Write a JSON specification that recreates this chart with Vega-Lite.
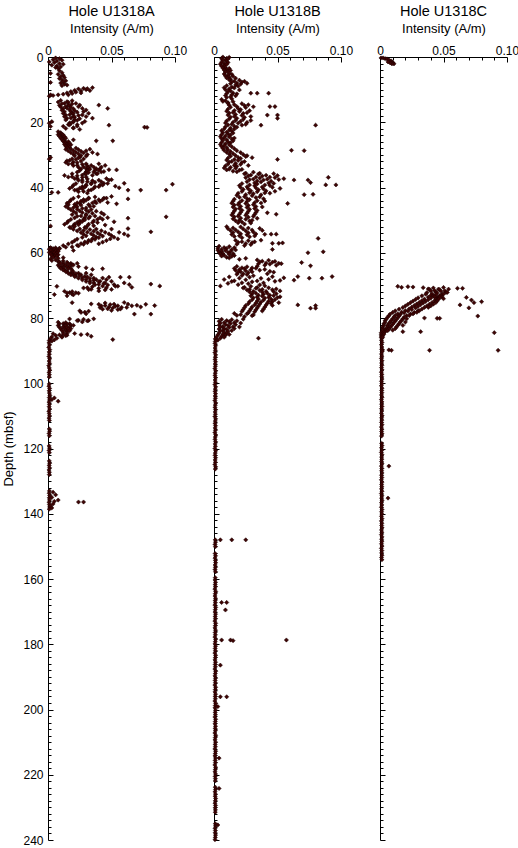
{
"$schema":"https://vega.github.io/schema/vega-lite/v6.json",
"usermeta":{"embedOptions":{"actions":false}},
"background":"white",
"padding":{"left":2,"top":4,"right":0,"bottom":0},
"bounds":"flush",
"spacing":39,
"config":{"font":"Liberation Sans","view":{"stroke":null},
"title":{"fontSize":14.5,"fontWeight":"normal","color":"black","offset":3,"font":"Liberation Sans"},
"axis":{"grid":false,"domainColor":"black","tickColor":"black","labelColor":"black","titleColor":"black","labelFont":"Liberation Sans","titleFont":"Liberation Sans","labelFontSize":12,"titleFontSize":13,"titleFontWeight":"normal","domainWidth":1,"tickWidth":1,"labelFlush":false,"labelOverlap":false}},
"datasets":{
"a":[
{"d":0.3,"v":0.006},{"d":0.5,"v":0.009},{"d":0.8,"v":0.004},{"d":1.0,"v":0.011},{"d":1.2,"v":0.007},{"d":1.5,"v":0.001},{"d":1.7,"v":0.005},{"d":2.0,"v":0.009},{"d":2.2,"v":0.012},{"d":2.5,"v":0.003},{"d":2.7,"v":0.007},{"d":3.0,"v":0.010},{"d":3.2,"v":0.006},{"d":3.5,"v":0.008},
{"d":4.2,"v":0.009},{"d":4.8,"v":0.011},{"d":5.3,"v":0.008},{"d":5.6,"v":0.012},{"d":6.0,"v":0.010},{"d":6.3,"v":0.013},{"d":6.6,"v":0.009},{"d":7.0,"v":0.011},{"d":7.3,"v":0.014},{"d":7.6,"v":0.012},{"d":8.0,"v":0.010},{"d":8.3,"v":0.013},{"d":8.6,"v":0.015},{"d":8.8,"v":0.011},{"d":5.0,"v":0.002},{"d":7.8,"v":0.002},
{"d":9.4,"v":0.035},{"d":9.6,"v":0.028},{"d":9.8,"v":0.024},{"d":10.0,"v":0.030},{"d":10.2,"v":0.021},{"d":10.4,"v":0.026},{"d":10.6,"v":0.018},{"d":10.8,"v":0.022},{"d":11.0,"v":0.015},{"d":11.2,"v":0.019},{"d":11.4,"v":0.012},{"d":11.6,"v":0.008},{"d":11.8,"v":0.004},{"d":12.0,"v":0.001},{"d":10.3,"v":0.033},{"d":11.0,"v":0.026},{"d":9.7,"v":0.031},{"d":11.6,"v":0.016},{"d":11.6,"v":0.002},
{"d":13.3,"v":0.010},{"d":13.7,"v":0.015},{"d":13.4,"v":0.019},
{"d":13.8,"v":0.008},{"d":14.2,"v":0.013},{"d":13.9,"v":0.016},{"d":14.25,"v":0.022},
{"d":14.3,"v":0.011},{"d":14.7,"v":0.016},{"d":14.4,"v":0.019},{"d":14.75,"v":0.025},
{"d":14.8,"v":0.009},{"d":15.2,"v":0.014},{"d":14.9,"v":0.017},{"d":15.25,"v":0.024},{"d":14.75,"v":0.040},
{"d":15.3,"v":0.010},{"d":15.7,"v":0.015},{"d":15.4,"v":0.018},{"d":15.75,"v":0.027},
{"d":15.8,"v":0.012},{"d":16.2,"v":0.017},{"d":15.9,"v":0.020},{"d":16.25,"v":0.030},{"d":15.75,"v":0.047},
{"d":16.3,"v":0.011},{"d":16.7,"v":0.018},{"d":16.4,"v":0.021},{"d":16.75,"v":0.028},
{"d":16.8,"v":0.013},{"d":17.2,"v":0.019},{"d":16.9,"v":0.023},{"d":17.25,"v":0.032},
{"d":17.3,"v":0.012},{"d":17.7,"v":0.017},{"d":17.4,"v":0.020},{"d":17.75,"v":0.027},
{"d":17.8,"v":0.014},{"d":18.2,"v":0.020},{"d":17.9,"v":0.024},{"d":18.25,"v":0.030},
{"d":18.3,"v":0.013},{"d":18.7,"v":0.018},{"d":18.4,"v":0.021},{"d":18.75,"v":0.035},
{"d":18.8,"v":0.015},{"d":19.2,"v":0.021},{"d":18.9,"v":0.025},
{"d":19.3,"v":0.014},{"d":19.7,"v":0.020},{"d":19.4,"v":0.023},{"d":19.75,"v":0.029},
{"d":19.8,"v":0.003},{"d":20.2,"v":0.017},{"d":19.9,"v":0.020},{"d":20.25,"v":0.027},
{"d":20.3,"v":0.001},{"d":20.7,"v":0.016},{"d":20.4,"v":0.018},{"d":20.75,"v":0.023},
{"d":20.8,"v":0.017},{"d":21.2,"v":0.023},{"d":20.9,"v":0.048},{"d":21.25,"v":0.012},
{"d":21.3,"v":0.002},{"d":21.7,"v":0.020},{"d":21.5,"v":0.076},{"d":21.6,"v":0.078},
{"d":21.8,"v":0.020},{"d":22.2,"v":0.025},{"d":21.9,"v":0.014},
{"d":22.9,"v":0.008},{"d":23.2,"v":0.010},{"d":23.4,"v":0.009},{"d":23.7,"v":0.011},
{"d":23.8,"v":0.008},{"d":24.2,"v":0.010},{"d":23.9,"v":0.012},
{"d":24.3,"v":0.009},{"d":24.7,"v":0.011},{"d":24.4,"v":0.013},
{"d":24.8,"v":0.010},{"d":25.2,"v":0.012},{"d":24.9,"v":0.014},
{"d":25.3,"v":0.011},{"d":25.7,"v":0.013},{"d":25.4,"v":0.020},{"d":25.7,"v":0.038},{"d":25.7,"v":0.051},
{"d":25.8,"v":0.012},{"d":26.2,"v":0.014},{"d":25.9,"v":0.016},
{"d":26.3,"v":0.013},{"d":26.7,"v":0.015},{"d":26.4,"v":0.017},
{"d":26.8,"v":0.013},{"d":27.2,"v":0.016},{"d":26.9,"v":0.018},
{"d":27.3,"v":0.014},{"d":27.7,"v":0.017},
{"d":27.8,"v":0.015},{"d":28.2,"v":0.018},{"d":27.9,"v":0.022},
{"d":28.3,"v":0.014},{"d":28.7,"v":0.020},{"d":28.4,"v":0.024},{"d":28.75,"v":0.030},{"d":28.25,"v":0.033},
{"d":28.8,"v":0.016},{"d":29.2,"v":0.022},{"d":28.9,"v":0.026},{"d":29.25,"v":0.035},
{"d":29.3,"v":0.018},{"d":29.7,"v":0.024},{"d":29.4,"v":0.028},{"d":29.75,"v":0.039},
{"d":29.8,"v":0.020},{"d":30.2,"v":0.026},{"d":29.9,"v":0.031},
{"d":30.3,"v":0.021},{"d":30.7,"v":0.025},{"d":30.4,"v":0.030},
{"d":30.8,"v":0.002},{"d":31.2,"v":0.019},{"d":30.9,"v":0.024},{"d":31.25,"v":0.028},
{"d":31.3,"v":0.001},{"d":31.7,"v":0.017},{"d":31.4,"v":0.022},
{"d":31.8,"v":0.015},{"d":32.2,"v":0.020},{"d":31.9,"v":0.026},
{"d":32.3,"v":0.014},{"d":32.7,"v":0.019},{"d":32.4,"v":0.023},{"d":32.75,"v":0.030},
{"d":32.8,"v":0.016},{"d":33.2,"v":0.023},{"d":32.9,"v":0.027},{"d":33.25,"v":0.034},{"d":32.75,"v":0.040},
{"d":33.3,"v":0.020},{"d":33.7,"v":0.028},{"d":33.4,"v":0.031},{"d":33.75,"v":0.036},{"d":33.25,"v":0.045},
{"d":33.8,"v":0.024},{"d":34.2,"v":0.030},{"d":33.9,"v":0.032},{"d":34.25,"v":0.038},{"d":33.75,"v":0.042},{"d":34.6,"v":0.054},
{"d":34.3,"v":0.026},{"d":34.7,"v":0.031},{"d":34.4,"v":0.033},{"d":34.75,"v":0.037},{"d":34.25,"v":0.041},{"d":34.55,"v":0.048},
{"d":34.8,"v":0.025},{"d":35.2,"v":0.030},{"d":34.9,"v":0.031},{"d":35.25,"v":0.036},{"d":34.75,"v":0.040},{"d":35.1,"v":0.044},
{"d":35.3,"v":0.023},{"d":35.7,"v":0.029},{"d":35.4,"v":0.032},{"d":35.75,"v":0.038},{"d":35.25,"v":0.042},
{"d":35.8,"v":0.019},{"d":36.2,"v":0.027},{"d":35.9,"v":0.030},{"d":36.25,"v":0.035},{"d":35.75,"v":0.039},
{"d":36.3,"v":0.013},{"d":36.7,"v":0.019},{"d":36.4,"v":0.023},{"d":36.75,"v":0.030},
{"d":36.8,"v":0.016},{"d":37.2,"v":0.023},{"d":36.9,"v":0.027},
{"d":37.3,"v":0.021},{"d":37.7,"v":0.027},{"d":37.4,"v":0.031},{"d":37.75,"v":0.040},{"d":37.25,"v":0.046},{"d":37.6,"v":0.050},
{"d":37.8,"v":0.024},{"d":38.2,"v":0.031},{"d":37.9,"v":0.035},{"d":38.25,"v":0.042},{"d":37.75,"v":0.048},
{"d":38.3,"v":0.027},{"d":38.7,"v":0.034},{"d":38.4,"v":0.037},{"d":38.75,"v":0.044},{"d":38.7,"v":0.060},
{"d":38.8,"v":0.022},{"d":39.2,"v":0.030},{"d":38.9,"v":0.034},{"d":39.25,"v":0.041},{"d":38.75,"v":0.047},{"d":39.0,"v":0.098},
{"d":39.3,"v":0.020},{"d":39.7,"v":0.027},{"d":39.4,"v":0.030},{"d":39.75,"v":0.037},{"d":39.25,"v":0.043},{"d":39.6,"v":0.053},
{"d":39.8,"v":0.019},{"d":40.2,"v":0.025},{"d":39.9,"v":0.029},{"d":40.25,"v":0.036},{"d":39.75,"v":0.040},{"d":40.1,"v":0.056},
{"d":40.3,"v":0.017},{"d":40.7,"v":0.023},{"d":40.4,"v":0.027},{"d":40.75,"v":0.034},{"d":40.8,"v":0.063},{"d":40.8,"v":0.073},{"d":40.8,"v":0.093},
{"d":40.8,"v":0.021},{"d":41.2,"v":0.028},{"d":40.9,"v":0.032},{"d":41.5,"v":0.003},{"d":41.5,"v":0.008},
{"d":41.3,"v":0.024},{"d":41.7,"v":0.031},
{"d":42.8,"v":0.024},{"d":43.2,"v":0.032},{"d":42.9,"v":0.037},{"d":43.25,"v":0.044},{"d":42.75,"v":0.050},
{"d":43.3,"v":0.020},{"d":43.7,"v":0.028},{"d":43.4,"v":0.032},{"d":43.75,"v":0.040},{"d":43.25,"v":0.046},{"d":43.5,"v":0.063},
{"d":43.8,"v":0.018},{"d":44.2,"v":0.026},{"d":43.9,"v":0.030},{"d":44.25,"v":0.037},{"d":43.75,"v":0.043},
{"d":44.3,"v":0.017},{"d":44.7,"v":0.023},{"d":44.4,"v":0.028},{"d":44.75,"v":0.035},{"d":44.25,"v":0.041},{"d":44.6,"v":0.047},
{"d":44.8,"v":0.015},{"d":45.2,"v":0.021},{"d":44.9,"v":0.025},{"d":45.25,"v":0.032},{"d":44.75,"v":0.038},{"d":45.0,"v":0.054},
{"d":45.3,"v":0.016},{"d":45.7,"v":0.022},{"d":45.4,"v":0.026},{"d":45.75,"v":0.033},
{"d":45.8,"v":0.014},{"d":46.2,"v":0.020},{"d":45.9,"v":0.023},{"d":46.25,"v":0.030},{"d":45.75,"v":0.036},
{"d":46.3,"v":0.016},{"d":46.7,"v":0.023},{"d":46.4,"v":0.027},{"d":46.75,"v":0.034},
{"d":46.8,"v":0.018},{"d":47.2,"v":0.025},{"d":46.9,"v":0.030},{"d":47.25,"v":0.038},
{"d":47.3,"v":0.020},{"d":47.7,"v":0.027},{"d":47.4,"v":0.032},{"d":47.75,"v":0.042},
{"d":47.8,"v":0.022},{"d":48.2,"v":0.030},{"d":47.9,"v":0.035},
{"d":48.3,"v":0.019},{"d":48.7,"v":0.026},{"d":48.4,"v":0.030},{"d":48.75,"v":0.037},{"d":48.25,"v":0.044},
{"d":48.8,"v":0.023},{"d":49.2,"v":0.029},{"d":48.9,"v":0.033},{"d":49.25,"v":0.041},{"d":49.4,"v":0.063},{"d":49.0,"v":0.093},
{"d":49.3,"v":0.021},{"d":49.7,"v":0.028},{"d":49.4,"v":0.032},{"d":49.75,"v":0.039},{"d":49.25,"v":0.047},
{"d":49.8,"v":0.018},{"d":50.2,"v":0.025},{"d":49.9,"v":0.029},{"d":50.25,"v":0.036},{"d":49.75,"v":0.043},
{"d":50.3,"v":0.016},{"d":50.7,"v":0.023},{"d":50.4,"v":0.027},{"d":50.75,"v":0.035},{"d":50.5,"v":0.052},
{"d":50.8,"v":0.015},{"d":51.2,"v":0.021},{"d":50.9,"v":0.025},{"d":51.25,"v":0.032},{"d":50.75,"v":0.039},
{"d":51.3,"v":0.013},{"d":51.7,"v":0.020},{"d":51.4,"v":0.024},{"d":51.75,"v":0.031},{"d":51.5,"v":0.045},
{"d":51.8,"v":0.002},{"d":52.2,"v":0.017},{"d":51.9,"v":0.021},{"d":52.25,"v":0.029},{"d":51.75,"v":0.036},
{"d":52.3,"v":0.018},{"d":52.7,"v":0.025},{"d":52.4,"v":0.030},{"d":52.75,"v":0.038},{"d":52.6,"v":0.063},
{"d":52.8,"v":0.020},{"d":53.2,"v":0.028},{"d":52.9,"v":0.033},{"d":53.25,"v":0.042},{"d":52.75,"v":0.050},
{"d":53.3,"v":0.023},{"d":53.7,"v":0.031},{"d":53.4,"v":0.036},{"d":53.75,"v":0.045},{"d":53.6,"v":0.081},
{"d":53.8,"v":0.026},{"d":54.2,"v":0.034},{"d":53.9,"v":0.039},{"d":54.25,"v":0.048},{"d":53.75,"v":0.056},
{"d":54.3,"v":0.028},{"d":54.7,"v":0.036},{"d":54.4,"v":0.041},{"d":54.75,"v":0.050},{"d":54.25,"v":0.060},
{"d":54.8,"v":0.030},{"d":55.2,"v":0.038},{"d":54.9,"v":0.043},{"d":55.25,"v":0.052},{"d":54.75,"v":0.063},
{"d":55.3,"v":0.027},{"d":55.7,"v":0.035},{"d":55.4,"v":0.040},{"d":55.75,"v":0.049},
{"d":55.8,"v":0.023},{"d":56.2,"v":0.032},{"d":55.9,"v":0.037},{"d":56.25,"v":0.046},{"d":55.75,"v":0.055},
{"d":56.3,"v":0.021},{"d":56.7,"v":0.029},{"d":56.4,"v":0.034},{"d":56.75,"v":0.043},
{"d":56.8,"v":0.019},{"d":57.2,"v":0.026},{"d":56.9,"v":0.031},{"d":57.25,"v":0.040},
{"d":57.3,"v":0.016},{"d":57.7,"v":0.023},{"d":57.4,"v":0.028},
{"d":57.8,"v":0.012},{"d":58.2,"v":0.019},{"d":57.9,"v":0.024},
{"d":58.4,"v":0.002},{"d":58.7,"v":0.004},{"d":58.5,"v":0.006},{"d":58.6,"v":0.009},{"d":58.3,"v":0.014},
{"d":58.9,"v":0.001},{"d":59.2,"v":0.003},{"d":59.0,"v":0.005},{"d":59.1,"v":0.007},{"d":58.8,"v":0.009},
{"d":59.4,"v":0.002},{"d":59.7,"v":0.004},{"d":59.5,"v":0.006},{"d":59.6,"v":0.008},{"d":59.3,"v":0.020},
{"d":59.9,"v":0.001},{"d":60.2,"v":0.003},{"d":60.0,"v":0.005},{"d":60.1,"v":0.007},
{"d":60.4,"v":0.002},{"d":60.7,"v":0.004},{"d":60.5,"v":0.006},{"d":60.6,"v":0.008},
{"d":60.9,"v":0.003},{"d":61.2,"v":0.005},{"d":61.0,"v":0.007},
{"d":61.4,"v":0.004},{"d":61.7,"v":0.008},{"d":61.5,"v":0.012},
{"d":61.9,"v":0.002},{"d":62.2,"v":0.006},
{"d":62.4,"v":0.003},{"d":62.7,"v":0.008},{"d":62.5,"v":0.012},
{"d":62.8,"v":0.009},{"d":63.2,"v":0.012},{"d":62.9,"v":0.015},{"d":63.25,"v":0.018},
{"d":63.3,"v":0.010},{"d":63.7,"v":0.013},{"d":63.4,"v":0.016},{"d":63.75,"v":0.019},{"d":63.25,"v":0.023},
{"d":63.8,"v":0.008},{"d":64.2,"v":0.011},{"d":63.9,"v":0.014},{"d":64.25,"v":0.017},{"d":63.75,"v":0.020},
{"d":64.3,"v":0.009},{"d":64.7,"v":0.012},{"d":64.4,"v":0.015},{"d":64.75,"v":0.018},{"d":64.25,"v":0.024},{"d":64.6,"v":0.030},
{"d":64.8,"v":0.010},{"d":65.2,"v":0.013},{"d":64.9,"v":0.016},{"d":65.1,"v":0.035},{"d":64.9,"v":0.043},
{"d":65.3,"v":0.012},{"d":65.7,"v":0.015},{"d":65.4,"v":0.019},
{"d":65.8,"v":0.014},{"d":66.2,"v":0.018},{"d":65.9,"v":0.020},{"d":66.25,"v":0.024},
{"d":66.3,"v":0.016},{"d":66.7,"v":0.020},{"d":66.4,"v":0.022},{"d":66.75,"v":0.026},{"d":66.25,"v":0.030},
{"d":66.8,"v":0.018},{"d":67.2,"v":0.022},{"d":66.9,"v":0.025},{"d":67.25,"v":0.029},{"d":66.75,"v":0.034},
{"d":67.3,"v":0.021},{"d":67.7,"v":0.027},{"d":67.4,"v":0.031},{"d":67.75,"v":0.036},{"d":67.5,"v":0.048},{"d":67.5,"v":0.057},{"d":67.5,"v":0.064},
{"d":67.8,"v":0.024},{"d":68.2,"v":0.030},{"d":67.9,"v":0.033},{"d":68.25,"v":0.038},{"d":67.75,"v":0.043},
{"d":68.3,"v":0.027},{"d":68.7,"v":0.033},{"d":68.4,"v":0.036},{"d":68.75,"v":0.041},{"d":68.25,"v":0.046},
{"d":68.8,"v":0.030},{"d":69.2,"v":0.036},{"d":68.9,"v":0.040},{"d":69.25,"v":0.045},{"d":68.75,"v":0.050},
{"d":69.3,"v":0.033},{"d":69.7,"v":0.040},{"d":69.4,"v":0.044},{"d":69.75,"v":0.052},{"d":69.25,"v":0.060},{"d":69.6,"v":0.081},
{"d":69.8,"v":0.037},{"d":70.2,"v":0.043},{"d":69.9,"v":0.047},{"d":70.25,"v":0.055},{"d":69.75,"v":0.064},{"d":70.2,"v":0.088},
{"d":70.3,"v":0.007},{"d":70.7,"v":0.031},{"d":70.4,"v":0.035},{"d":70.75,"v":0.046},{"d":70.25,"v":0.053},{"d":70.6,"v":0.066},
{"d":70.8,"v":0.028},{"d":71.2,"v":0.034},{"d":70.9,"v":0.040},{"d":71.25,"v":0.050},
{"d":71.3,"v":0.032},{"d":71.7,"v":0.040},{"d":71.4,"v":0.045},
{"d":71.8,"v":0.013},{"d":72.2,"v":0.017},{"d":71.9,"v":0.019},{"d":72.25,"v":0.022},
{"d":72.3,"v":0.015},{"d":72.7,"v":0.019},{"d":72.4,"v":0.024},
{"d":72.8,"v":0.005},{"d":73.2,"v":0.015},{"d":72.9,"v":0.020},
{"d":75.3,"v":0.019},{"d":75.7,"v":0.034},{"d":75.4,"v":0.045},{"d":75.75,"v":0.052},{"d":75.25,"v":0.060},{"d":75.8,"v":0.077},{"d":76.2,"v":0.084},
{"d":75.8,"v":0.040},{"d":76.2,"v":0.045},{"d":75.9,"v":0.049},{"d":76.25,"v":0.055},{"d":75.75,"v":0.063},{"d":76.1,"v":0.070},
{"d":76.3,"v":0.042},{"d":76.7,"v":0.048},{"d":76.4,"v":0.053},{"d":76.75,"v":0.058},{"d":76.25,"v":0.066},{"d":76.6,"v":0.073},
{"d":76.8,"v":0.041},{"d":77.2,"v":0.047},{"d":76.9,"v":0.051},{"d":77.25,"v":0.057},{"d":76.75,"v":0.062},
{"d":77.3,"v":0.043},{"d":77.7,"v":0.050},{"d":77.4,"v":0.055},
{"d":77.8,"v":0.025},{"d":78.2,"v":0.029},{"d":77.9,"v":0.032},{"d":78.8,"v":0.068},{"d":78.8,"v":0.081},
{"d":78.3,"v":0.026},{"d":78.7,"v":0.030},
{"d":80.3,"v":0.017},{"d":80.7,"v":0.024},{"d":80.4,"v":0.028},{"d":80.75,"v":0.032},{"d":80.25,"v":0.036},
{"d":80.8,"v":0.023},{"d":81.2,"v":0.027},{"d":80.9,"v":0.031},
{"d":81.3,"v":0.008},{"d":81.7,"v":0.012},{"d":81.4,"v":0.014},{"d":81.75,"v":0.017},
{"d":81.8,"v":0.009},{"d":82.2,"v":0.013},{"d":81.9,"v":0.015},{"d":82.25,"v":0.018},
{"d":82.3,"v":0.008},{"d":82.7,"v":0.012},{"d":82.4,"v":0.014},{"d":82.75,"v":0.017},{"d":82.25,"v":0.020},
{"d":82.8,"v":0.009},{"d":83.2,"v":0.013},{"d":82.9,"v":0.015},{"d":83.25,"v":0.018},
{"d":83.3,"v":0.010},{"d":83.7,"v":0.014},{"d":83.4,"v":0.016},
{"d":83.8,"v":0.011},{"d":84.2,"v":0.015},{"d":83.9,"v":0.017},
{"d":84.3,"v":0.012},{"d":84.7,"v":0.015},
{"d":84.8,"v":0.004},{"d":85.2,"v":0.009},{"d":84.9,"v":0.012},{"d":85.25,"v":0.015},{"d":84.75,"v":0.021},{"d":85.1,"v":0.026},{"d":85.0,"v":0.031},
{"d":85.3,"v":0.006},{"d":85.7,"v":0.011},{"d":85.4,"v":0.014},{"d":85.6,"v":0.034},
{"d":85.8,"v":0.003},{"d":86.2,"v":0.007},{"d":85.9,"v":0.011},
{"d":86.3,"v":0.002},{"d":86.7,"v":0.005},{"d":86.6,"v":0.051},
{"d":86.9,"v":0.001},{"d":87.1,"v":0.003},
{"d":87.6,"v":0.0008},{"d":88.3,"v":0.0012},{"d":89.0,"v":0.0006},{"d":89.7,"v":0.0014},{"d":90.4,"v":0.0009},{"d":91.1,"v":0.0011},{"d":91.8,"v":0.0007},{"d":92.5,"v":0.0013},{"d":93.2,"v":0.0009},{"d":93.9,"v":0.0012},{"d":94.6,"v":0.0006},{"d":95.3,"v":0.0010},{"d":96.0,"v":0.0014},{"d":96.7,"v":0.0008},{"d":97.4,"v":0.0011},{"d":98.1,"v":0.0009},
{"d":100.2,"v":0.0010},{"d":100.9,"v":0.0007},{"d":101.6,"v":0.0013},{"d":102.3,"v":0.0009},{"d":103.0,"v":0.0011},{"d":103.7,"v":0.0015},{"d":104.4,"v":0.0010},{"d":105.1,"v":0.0012},{"d":105.8,"v":0.0008},{"d":106.5,"v":0.0011},{"d":107.2,"v":0.0009},{"d":107.9,"v":0.0013},{"d":108.6,"v":0.0007},{"d":109.3,"v":0.0010},{"d":110.0,"v":0.0012},{"d":110.7,"v":0.0008},{"d":111.4,"v":0.0011},
{"d":104.5,"v":0.005},{"d":105.5,"v":0.008},{"d":105.0,"v":0.003},
{"d":114.0,"v":0.0010},{"d":114.7,"v":0.0013},{"d":115.4,"v":0.0008},{"d":116.1,"v":0.0011},
{"d":119.2,"v":0.0009},{"d":119.9,"v":0.0012},{"d":120.6,"v":0.0008},{"d":121.3,"v":0.0011},
{"d":123.8,"v":0.0010},{"d":124.5,"v":0.0013},{"d":125.2,"v":0.0009},{"d":125.9,"v":0.0012},{"d":126.6,"v":0.0008},{"d":127.3,"v":0.0011},{"d":128.0,"v":0.0010},
{"d":133.0,"v":0.0011},{"d":133.7,"v":0.0009},{"d":134.4,"v":0.0013},{"d":135.1,"v":0.0010},{"d":135.8,"v":0.0012},{"d":136.5,"v":0.0008},{"d":137.2,"v":0.0011},{"d":137.9,"v":0.0013},{"d":138.6,"v":0.0010},
{"d":133.4,"v":0.004},{"d":134.2,"v":0.006},{"d":135.0,"v":0.003},{"d":135.8,"v":0.008},{"d":136.2,"v":0.005},{"d":136.4,"v":0.024},{"d":136.4,"v":0.028},{"d":137.0,"v":0.004},{"d":137.6,"v":0.002},{"d":138.2,"v":0.003}
],
"b":[
{"d":0.0,"v":0.007},{"d":0.4,"v":0.010},{"d":0.1,"v":0.012},
{"d":0.5,"v":0.006},{"d":0.9,"v":0.009},{"d":0.6,"v":0.011},
{"d":1.0,"v":0.007},{"d":1.4,"v":0.010},
{"d":1.6,"v":0.006},{"d":2.0,"v":0.008},{"d":1.7,"v":0.011},
{"d":2.2,"v":0.005},{"d":2.6,"v":0.008},{"d":2.3,"v":0.010},
{"d":2.8,"v":0.006},{"d":3.2,"v":0.009},
{"d":3.4,"v":0.007},{"d":3.8,"v":0.010},{"d":3.5,"v":0.012},
{"d":4.0,"v":0.008},{"d":4.4,"v":0.011},{"d":4.1,"v":0.013},
{"d":4.6,"v":0.009},{"d":5.0,"v":0.012},
{"d":5.2,"v":0.008},{"d":5.6,"v":0.011},{"d":5.3,"v":0.014},
{"d":5.8,"v":0.009},{"d":6.2,"v":0.012},{"d":5.9,"v":0.015},
{"d":6.4,"v":0.010},{"d":6.8,"v":0.013},{"d":6.5,"v":0.017},
{"d":7.0,"v":0.012},{"d":7.4,"v":0.016},{"d":7.1,"v":0.020},{"d":7.45,"v":0.024},
{"d":7.6,"v":0.014},{"d":8.0,"v":0.018},{"d":7.7,"v":0.022},{"d":8.05,"v":0.026},
{"d":8.2,"v":0.013},{"d":8.6,"v":0.017},{"d":8.3,"v":0.021},
{"d":8.8,"v":0.010},{"d":9.2,"v":0.014},{"d":8.9,"v":0.019},
{"d":9.4,"v":0.008},{"d":9.8,"v":0.012},{"d":9.5,"v":0.016},
{"d":10.0,"v":0.009},{"d":10.4,"v":0.013},{"d":10.1,"v":0.020},
{"d":10.6,"v":0.011},{"d":11.0,"v":0.015},
{"d":11.1,"v":0.029},{"d":11.1,"v":0.034},{"d":11.1,"v":0.043},
{"d":11.2,"v":0.010},{"d":11.6,"v":0.014},{"d":11.3,"v":0.018},
{"d":11.8,"v":0.009},{"d":12.2,"v":0.013},{"d":11.9,"v":0.017},
{"d":12.4,"v":0.010},{"d":12.8,"v":0.014},
{"d":13.0,"v":0.006},{"d":13.4,"v":0.009},
{"d":13.6,"v":0.007},{"d":14.0,"v":0.011},{"d":13.7,"v":0.015},
{"d":14.2,"v":0.011},{"d":14.6,"v":0.016},{"d":14.3,"v":0.022},{"d":14.65,"v":0.027},
{"d":14.8,"v":0.012},{"d":15.2,"v":0.018},{"d":14.9,"v":0.024},{"d":15.25,"v":0.031},
{"d":15.2,"v":0.044},{"d":15.2,"v":0.048},
{"d":15.4,"v":0.013},{"d":15.8,"v":0.019},{"d":15.5,"v":0.025},
{"d":16.0,"v":0.011},{"d":16.4,"v":0.016},{"d":16.1,"v":0.021},{"d":16.45,"v":0.028},
{"d":16.6,"v":0.010},{"d":17.0,"v":0.015},{"d":16.7,"v":0.020},{"d":17.05,"v":0.026},
{"d":17.2,"v":0.012},{"d":17.6,"v":0.017},{"d":17.3,"v":0.023},
{"d":17.8,"v":0.042},{"d":17.8,"v":0.050},
{"d":17.8,"v":0.011},{"d":18.2,"v":0.016},{"d":17.9,"v":0.022},{"d":18.25,"v":0.029},
{"d":18.4,"v":0.013},{"d":18.8,"v":0.018},{"d":18.5,"v":0.024},{"d":18.8,"v":0.050},
{"d":19.0,"v":0.012},{"d":19.4,"v":0.017},{"d":19.1,"v":0.023},{"d":19.45,"v":0.029},
{"d":19.6,"v":0.010},{"d":20.0,"v":0.015},{"d":19.7,"v":0.021},{"d":20.05,"v":0.026},
{"d":20.2,"v":0.009},{"d":20.6,"v":0.014},{"d":20.3,"v":0.019},{"d":20.65,"v":0.025},
{"d":20.9,"v":0.037},{"d":20.9,"v":0.080},
{"d":20.8,"v":0.011},{"d":21.2,"v":0.016},{"d":20.9,"v":0.022},
{"d":21.4,"v":0.009},{"d":21.8,"v":0.013},{"d":21.5,"v":0.018},
{"d":22.0,"v":0.008},{"d":22.4,"v":0.012},{"d":22.1,"v":0.016},
{"d":22.6,"v":0.006},{"d":23.0,"v":0.010},{"d":22.7,"v":0.014},
{"d":23.2,"v":0.007},{"d":23.6,"v":0.011},{"d":23.3,"v":0.015},
{"d":23.8,"v":0.006},{"d":24.2,"v":0.009},{"d":23.9,"v":0.013},
{"d":24.4,"v":0.005},{"d":24.8,"v":0.008},{"d":24.5,"v":0.012},{"d":24.85,"v":0.016},
{"d":25.0,"v":0.006},{"d":25.4,"v":0.010},{"d":25.1,"v":0.014},
{"d":25.6,"v":0.007},{"d":26.0,"v":0.011},{"d":25.7,"v":0.015},
{"d":26.2,"v":0.006},{"d":26.6,"v":0.009},{"d":26.3,"v":0.013},
{"d":26.8,"v":0.005},{"d":27.2,"v":0.008},{"d":26.9,"v":0.012},
{"d":27.4,"v":0.006},{"d":27.8,"v":0.010},{"d":27.5,"v":0.014},
{"d":28.0,"v":0.007},{"d":28.4,"v":0.011},{"d":28.1,"v":0.016},
{"d":28.6,"v":0.061},{"d":28.7,"v":0.071},
{"d":28.6,"v":0.008},{"d":29.0,"v":0.013},{"d":28.7,"v":0.018},
{"d":29.2,"v":0.010},{"d":29.6,"v":0.015},{"d":29.3,"v":0.021},
{"d":29.8,"v":0.012},{"d":30.2,"v":0.017},{"d":29.9,"v":0.023},{"d":30.25,"v":0.026},
{"d":30.4,"v":0.013},{"d":30.8,"v":0.019},{"d":30.5,"v":0.025},{"d":30.85,"v":0.030},
{"d":31.0,"v":0.011},{"d":31.4,"v":0.016},{"d":31.1,"v":0.021},{"d":31.4,"v":0.050},
{"d":31.6,"v":0.010},{"d":32.0,"v":0.014},{"d":31.7,"v":0.019},{"d":32.05,"v":0.024},
{"d":32.2,"v":0.012},{"d":32.6,"v":0.017},{"d":32.3,"v":0.022},
{"d":32.8,"v":0.011},{"d":33.2,"v":0.016},{"d":32.9,"v":0.021},{"d":33.25,"v":0.027},
{"d":33.4,"v":0.009},{"d":33.8,"v":0.013},{"d":33.5,"v":0.018},
{"d":34.0,"v":0.008},{"d":34.4,"v":0.012},{"d":34.1,"v":0.017},{"d":34.45,"v":0.022},
{"d":34.6,"v":0.010},{"d":35.0,"v":0.015},{"d":34.7,"v":0.020},
{"d":35.2,"v":0.018},{"d":35.6,"v":0.025},{"d":35.3,"v":0.031},{"d":35.65,"v":0.036},
{"d":35.8,"v":0.024},{"d":36.2,"v":0.029},{"d":35.9,"v":0.035},{"d":36.25,"v":0.041},{"d":35.75,"v":0.047},
{"d":36.4,"v":0.027},{"d":36.8,"v":0.033},{"d":36.5,"v":0.038},{"d":36.85,"v":0.044},{"d":36.35,"v":0.050},
{"d":36.9,"v":0.090},
{"d":37.0,"v":0.025},{"d":37.4,"v":0.031},{"d":37.1,"v":0.036},{"d":37.45,"v":0.042},{"d":36.95,"v":0.048},{"d":37.3,"v":0.055},
{"d":37.7,"v":0.063},{"d":37.7,"v":0.074},
{"d":37.6,"v":0.028},{"d":38.0,"v":0.034},{"d":37.7,"v":0.039},{"d":38.05,"v":0.045},{"d":37.55,"v":0.051},
{"d":38.2,"v":0.026},{"d":38.6,"v":0.032},{"d":38.3,"v":0.037},{"d":38.65,"v":0.043},{"d":38.5,"v":0.076},
{"d":38.8,"v":0.022},{"d":39.2,"v":0.028},{"d":38.9,"v":0.034},{"d":39.25,"v":0.040},{"d":38.75,"v":0.047},
{"d":39.2,"v":0.088},{"d":39.2,"v":0.096},
{"d":39.4,"v":0.020},{"d":39.8,"v":0.026},{"d":39.5,"v":0.032},{"d":39.85,"v":0.038},{"d":39.35,"v":0.044},
{"d":40.0,"v":0.021},{"d":40.4,"v":0.027},{"d":40.1,"v":0.033},{"d":40.45,"v":0.039},{"d":39.95,"v":0.046},{"d":40.3,"v":0.052},
{"d":40.6,"v":0.023},{"d":41.0,"v":0.029},{"d":40.7,"v":0.035},{"d":41.05,"v":0.041},
{"d":41.2,"v":0.022},{"d":41.6,"v":0.028},{"d":41.3,"v":0.034},{"d":41.65,"v":0.040},{"d":41.15,"v":0.048},
{"d":41.8,"v":0.019},{"d":42.2,"v":0.025},{"d":41.9,"v":0.031},{"d":42.25,"v":0.037},{"d":41.75,"v":0.044},
{"d":42.2,"v":0.071},{"d":42.1,"v":0.078},
{"d":42.4,"v":0.018},{"d":42.8,"v":0.024},{"d":42.5,"v":0.030},{"d":42.85,"v":0.036},
{"d":43.0,"v":0.020},{"d":43.4,"v":0.026},{"d":43.1,"v":0.033},{"d":43.45,"v":0.039},
{"d":43.6,"v":0.016},{"d":44.0,"v":0.022},{"d":43.7,"v":0.028},{"d":44.05,"v":0.034},
{"d":44.2,"v":0.015},{"d":44.6,"v":0.020},{"d":44.3,"v":0.026},{"d":44.65,"v":0.032},{"d":44.15,"v":0.040},
{"d":44.9,"v":0.058},
{"d":44.8,"v":0.014},{"d":45.2,"v":0.019},{"d":44.9,"v":0.025},{"d":45.25,"v":0.031},{"d":44.75,"v":0.037},
{"d":45.4,"v":0.016},{"d":45.8,"v":0.021},{"d":45.5,"v":0.027},{"d":45.85,"v":0.033},
{"d":46.0,"v":0.015},{"d":46.4,"v":0.020},{"d":46.1,"v":0.026},{"d":46.45,"v":0.032},{"d":45.95,"v":0.038},
{"d":46.6,"v":0.017},{"d":47.0,"v":0.022},{"d":46.7,"v":0.028},{"d":47.05,"v":0.034},
{"d":47.2,"v":0.016},{"d":47.6,"v":0.021},{"d":47.3,"v":0.027},{"d":47.65,"v":0.033},
{"d":47.8,"v":0.015},{"d":48.2,"v":0.020},{"d":47.9,"v":0.026},{"d":48.25,"v":0.032},{"d":47.75,"v":0.042},
{"d":48.2,"v":0.049},
{"d":48.4,"v":0.014},{"d":48.8,"v":0.019},{"d":48.5,"v":0.025},{"d":48.85,"v":0.031},
{"d":49.0,"v":0.016},{"d":49.4,"v":0.021},{"d":49.1,"v":0.027},{"d":49.45,"v":0.034},
{"d":49.6,"v":0.015},{"d":50.0,"v":0.020},{"d":49.7,"v":0.025},{"d":50.05,"v":0.030},
{"d":50.2,"v":0.017},{"d":50.6,"v":0.022},{"d":50.3,"v":0.028},
{"d":50.8,"v":0.019},{"d":51.2,"v":0.024},{"d":50.9,"v":0.029},
{"d":52.0,"v":0.010},{"d":52.4,"v":0.015},{"d":52.1,"v":0.021},{"d":52.45,"v":0.027},
{"d":52.6,"v":0.011},{"d":53.0,"v":0.017},{"d":52.7,"v":0.023},{"d":53.05,"v":0.030},{"d":52.55,"v":0.036},
{"d":53.2,"v":0.013},{"d":53.6,"v":0.019},{"d":53.3,"v":0.025},{"d":53.65,"v":0.031},{"d":53.15,"v":0.038},
{"d":53.8,"v":0.015},{"d":54.2,"v":0.021},{"d":53.9,"v":0.027},{"d":54.25,"v":0.033},
{"d":54.3,"v":0.045},{"d":54.3,"v":0.049},
{"d":54.4,"v":0.014},{"d":54.8,"v":0.020},{"d":54.5,"v":0.026},{"d":54.85,"v":0.032},{"d":54.35,"v":0.040},
{"d":55.0,"v":0.016},{"d":55.4,"v":0.022},{"d":55.1,"v":0.028},
{"d":55.6,"v":0.082},
{"d":56.2,"v":0.017},{"d":56.6,"v":0.022},{"d":56.3,"v":0.027},{"d":56.65,"v":0.032},{"d":56.15,"v":0.037},
{"d":56.8,"v":0.019},{"d":57.2,"v":0.025},{"d":56.9,"v":0.030},
{"d":57.1,"v":0.046},{"d":57.1,"v":0.051},{"d":57.0,"v":0.054},
{"d":57.4,"v":0.018},{"d":57.8,"v":0.024},{"d":57.5,"v":0.029},
{"d":58.0,"v":0.004},{"d":58.4,"v":0.008},{"d":58.1,"v":0.012},{"d":58.45,"v":0.016},
{"d":58.6,"v":0.003},{"d":59.0,"v":0.006},{"d":58.7,"v":0.010},{"d":59.05,"v":0.014},
{"d":59.0,"v":0.046},
{"d":59.2,"v":0.003},{"d":59.6,"v":0.006},{"d":59.3,"v":0.009},{"d":59.65,"v":0.013},{"d":59.15,"v":0.017},
{"d":59.7,"v":0.086},
{"d":59.8,"v":0.004},{"d":60.2,"v":0.007},{"d":59.9,"v":0.011},{"d":60.25,"v":0.015},{"d":60.0,"v":0.074},
{"d":60.4,"v":0.005},{"d":60.8,"v":0.008},{"d":60.5,"v":0.012},{"d":60.85,"v":0.016},
{"d":61.0,"v":0.006},{"d":61.4,"v":0.010},{"d":61.1,"v":0.014},
{"d":61.6,"v":0.012},{"d":62.0,"v":0.020},{"d":61.7,"v":0.025},
{"d":62.2,"v":0.034},{"d":62.6,"v":0.038},{"d":62.3,"v":0.043},{"d":62.65,"v":0.048},
{"d":62.8,"v":0.036},{"d":63.2,"v":0.041},{"d":62.9,"v":0.046},{"d":63.25,"v":0.051},{"d":63.0,"v":0.069},
{"d":63.4,"v":0.035},{"d":63.8,"v":0.040},{"d":63.5,"v":0.044},{"d":63.85,"v":0.049},{"d":63.35,"v":0.053},
{"d":64.0,"v":0.076},
{"d":64.2,"v":0.018},{"d":64.6,"v":0.022},{"d":64.3,"v":0.026},{"d":64.65,"v":0.030},{"d":64.15,"v":0.034},
{"d":64.8,"v":0.016},{"d":65.2,"v":0.020},{"d":64.9,"v":0.024},{"d":65.25,"v":0.029},{"d":64.75,"v":0.033},{"d":65.1,"v":0.040},
{"d":65.4,"v":0.017},{"d":65.8,"v":0.021},{"d":65.5,"v":0.025},{"d":65.85,"v":0.030},{"d":65.35,"v":0.036},{"d":65.7,"v":0.044},
{"d":66.0,"v":0.019},{"d":66.4,"v":0.023},{"d":66.1,"v":0.027},{"d":66.45,"v":0.042},{"d":65.95,"v":0.047},
{"d":66.6,"v":0.018},{"d":67.0,"v":0.022},{"d":66.7,"v":0.026},{"d":67.05,"v":0.031},
{"d":67.3,"v":0.066},{"d":67.3,"v":0.093},{"d":67.8,"v":0.075},{"d":67.8,"v":0.085},
{"d":67.4,"v":0.012},{"d":67.8,"v":0.020},{"d":67.5,"v":0.028},{"d":67.85,"v":0.037},{"d":67.35,"v":0.046},{"d":67.7,"v":0.055},
{"d":68.2,"v":0.008},{"d":68.6,"v":0.016},{"d":68.3,"v":0.025},{"d":68.65,"v":0.034},{"d":68.15,"v":0.043},{"d":68.5,"v":0.052},{"d":68.4,"v":0.063},
{"d":68.8,"v":0.014},{"d":69.2,"v":0.022},{"d":68.9,"v":0.030},{"d":69.25,"v":0.039},{"d":68.75,"v":0.048},
{"d":69.4,"v":0.011},{"d":69.8,"v":0.019},{"d":69.5,"v":0.027},{"d":69.85,"v":0.036},
{"d":70.2,"v":0.005},{"d":70.6,"v":0.024},{"d":70.3,"v":0.029},{"d":70.65,"v":0.034},{"d":70.15,"v":0.040},
{"d":70.8,"v":0.023},{"d":71.2,"v":0.028},{"d":70.9,"v":0.033},{"d":71.25,"v":0.038},{"d":70.75,"v":0.043},{"d":71.1,"v":0.049},
{"d":71.4,"v":0.026},{"d":71.8,"v":0.031},{"d":71.5,"v":0.036},{"d":71.85,"v":0.041},{"d":71.35,"v":0.046},{"d":71.7,"v":0.052},
{"d":72.0,"v":0.028},{"d":72.4,"v":0.033},{"d":72.1,"v":0.038},{"d":72.45,"v":0.042},{"d":71.95,"v":0.047},
{"d":72.6,"v":0.030},{"d":73.0,"v":0.035},{"d":72.7,"v":0.039},{"d":73.05,"v":0.044},{"d":72.55,"v":0.049},
{"d":73.2,"v":0.029},{"d":73.6,"v":0.034},{"d":73.3,"v":0.038},{"d":73.65,"v":0.043},{"d":73.15,"v":0.047},{"d":73.5,"v":0.052},
{"d":73.8,"v":0.031},{"d":74.2,"v":0.035},{"d":73.9,"v":0.040},{"d":74.25,"v":0.045},{"d":73.75,"v":0.050},
{"d":74.4,"v":0.030},{"d":74.8,"v":0.034},{"d":74.5,"v":0.039},{"d":74.85,"v":0.043},{"d":74.35,"v":0.048},
{"d":75.0,"v":0.028},{"d":75.4,"v":0.033},{"d":75.1,"v":0.037},{"d":75.45,"v":0.042},{"d":74.95,"v":0.046},{"d":75.3,"v":0.051},
{"d":75.6,"v":0.027},{"d":76.0,"v":0.032},{"d":75.7,"v":0.036},{"d":76.05,"v":0.041},{"d":75.55,"v":0.045},
{"d":76.0,"v":0.066},{"d":76.2,"v":0.080},
{"d":76.2,"v":0.025},{"d":76.6,"v":0.030},{"d":76.3,"v":0.035},{"d":76.65,"v":0.040},{"d":76.15,"v":0.046},
{"d":76.8,"v":0.024},{"d":77.2,"v":0.029},{"d":76.9,"v":0.034},{"d":77.25,"v":0.039},{"d":77.0,"v":0.076},{"d":77.0,"v":0.080},
{"d":77.4,"v":0.023},{"d":77.8,"v":0.028},{"d":77.5,"v":0.033},{"d":77.85,"v":0.038},
{"d":78.0,"v":0.022},{"d":78.4,"v":0.027},{"d":78.1,"v":0.032},
{"d":78.6,"v":0.016},{"d":79.0,"v":0.021},{"d":78.7,"v":0.026},{"d":79.05,"v":0.031},
{"d":79.2,"v":0.018},{"d":79.6,"v":0.024},{"d":79.3,"v":0.030},
{"d":80.4,"v":0.006},{"d":80.8,"v":0.010},{"d":80.5,"v":0.014},{"d":80.85,"v":0.018},{"d":80.35,"v":0.023},
{"d":81.0,"v":0.004},{"d":81.4,"v":0.008},{"d":81.1,"v":0.012},{"d":81.45,"v":0.016},
{"d":81.6,"v":0.005},{"d":82.0,"v":0.009},{"d":81.7,"v":0.013},{"d":82.05,"v":0.017},{"d":81.55,"v":0.021},
{"d":82.2,"v":0.004},{"d":82.6,"v":0.007},{"d":82.3,"v":0.011},{"d":82.65,"v":0.015},
{"d":82.8,"v":0.005},{"d":83.2,"v":0.008},{"d":82.9,"v":0.012},{"d":83.25,"v":0.016},{"d":82.75,"v":0.020},
{"d":83.4,"v":0.004},{"d":83.8,"v":0.007},{"d":83.5,"v":0.010},{"d":83.85,"v":0.014},
{"d":84.0,"v":0.005},{"d":84.4,"v":0.008},{"d":84.1,"v":0.011},
{"d":84.6,"v":0.004},{"d":85.0,"v":0.007},{"d":84.7,"v":0.010},{"d":85.05,"v":0.012},
{"d":85.2,"v":0.003},{"d":85.6,"v":0.006},{"d":85.3,"v":0.009},
{"d":85.8,"v":0.002},{"d":86.2,"v":0.005},{"d":85.9,"v":0.008},{"d":86.2,"v":0.035},
{"d":86.4,"v":0.001},{"d":86.8,"v":0.003},{"d":87.2,"v":0.001},
{"d":87.8,"v":0.0008},{"d":88.5,"v":0.0012},{"d":89.2,"v":0.0009},{"d":89.9,"v":0.0011},{"d":90.6,"v":0.0007},{"d":91.3,"v":0.0013},{"d":92.0,"v":0.0010},{"d":92.7,"v":0.0008},{"d":93.4,"v":0.0012},{"d":94.1,"v":0.0009},{"d":94.8,"v":0.0011},{"d":95.5,"v":0.0007},{"d":96.2,"v":0.0013},{"d":96.9,"v":0.0010},{"d":97.6,"v":0.0008},{"d":98.3,"v":0.0012},{"d":99.0,"v":0.0009},{"d":99.7,"v":0.0011},{"d":100.4,"v":0.0007},{"d":101.1,"v":0.0013},{"d":101.8,"v":0.0010},{"d":102.5,"v":0.0008},{"d":103.2,"v":0.0012},{"d":103.9,"v":0.0009},{"d":104.6,"v":0.0011},{"d":105.3,"v":0.0007},{"d":106.0,"v":0.0013},{"d":106.7,"v":0.0010},{"d":107.4,"v":0.0008},{"d":108.1,"v":0.0012},{"d":108.8,"v":0.0009},{"d":109.5,"v":0.0011},{"d":110.2,"v":0.0007},{"d":110.9,"v":0.0013},{"d":111.6,"v":0.0010},{"d":112.3,"v":0.0008},{"d":113.0,"v":0.0012},{"d":113.7,"v":0.0009},{"d":114.4,"v":0.0011},{"d":115.1,"v":0.0007},{"d":115.8,"v":0.0013},{"d":116.5,"v":0.0010},{"d":117.2,"v":0.0008},{"d":117.9,"v":0.0012},{"d":118.6,"v":0.0009},{"d":119.3,"v":0.0011},{"d":120.0,"v":0.0007},{"d":120.7,"v":0.0013},{"d":121.4,"v":0.0010},{"d":122.1,"v":0.0008},{"d":122.8,"v":0.0012},{"d":123.5,"v":0.0009},{"d":124.2,"v":0.0011},{"d":124.9,"v":0.0007},{"d":125.6,"v":0.0013},{"d":126.3,"v":0.0010},
{"d":148.0,"v":0.0010},{"d":148.7,"v":0.0012},{"d":149.4,"v":0.0008},{"d":150.1,"v":0.0011},
{"d":148.0,"v":0.005},{"d":148.0,"v":0.014},{"d":148.0,"v":0.025},
{"d":152.2,"v":0.0009},{"d":152.9,"v":0.0012},{"d":153.6,"v":0.0008},{"d":154.3,"v":0.0011},{"d":155.0,"v":0.0013},{"d":155.7,"v":0.0009},{"d":156.4,"v":0.0011},{"d":157.1,"v":0.0008},{"d":157.8,"v":0.0012},
{"d":159.6,"v":0.0010},{"d":160.3,"v":0.0008},{"d":161.0,"v":0.0012},{"d":161.7,"v":0.0009},{"d":162.4,"v":0.0011},{"d":163.1,"v":0.0007},{"d":163.8,"v":0.0013},{"d":164.5,"v":0.0010},{"d":165.2,"v":0.0008},{"d":165.9,"v":0.0012},{"d":166.6,"v":0.0009},{"d":167.3,"v":0.0011},{"d":168.0,"v":0.0007},{"d":168.7,"v":0.0013},{"d":169.4,"v":0.0010},{"d":170.1,"v":0.0008},{"d":170.8,"v":0.0012},{"d":171.5,"v":0.0009},{"d":172.2,"v":0.0011},{"d":172.9,"v":0.0007},{"d":173.6,"v":0.0013},{"d":174.3,"v":0.0010},{"d":175.0,"v":0.0008},{"d":175.7,"v":0.0012},{"d":176.4,"v":0.0009},{"d":177.1,"v":0.0011},{"d":177.8,"v":0.0007},{"d":178.5,"v":0.0013},{"d":179.2,"v":0.0010},{"d":179.9,"v":0.0008},{"d":180.6,"v":0.0012},{"d":181.3,"v":0.0009},{"d":182.0,"v":0.0011},{"d":182.7,"v":0.0007},{"d":183.4,"v":0.0013},{"d":184.1,"v":0.0010},{"d":184.8,"v":0.0008},{"d":185.5,"v":0.0012},{"d":186.2,"v":0.0009},{"d":186.9,"v":0.0011},{"d":187.6,"v":0.0007},{"d":188.3,"v":0.0013},{"d":189.0,"v":0.0010},{"d":189.7,"v":0.0008},{"d":190.4,"v":0.0012},{"d":191.1,"v":0.0009},{"d":191.8,"v":0.0011},{"d":192.5,"v":0.0007},{"d":193.2,"v":0.0013},{"d":193.9,"v":0.0010},{"d":194.6,"v":0.0008},{"d":195.3,"v":0.0012},{"d":196.0,"v":0.0009},{"d":196.7,"v":0.0011},{"d":197.4,"v":0.0007},{"d":198.1,"v":0.0013},{"d":198.8,"v":0.0010},{"d":199.5,"v":0.0008},{"d":200.2,"v":0.0012},{"d":200.9,"v":0.0009},{"d":201.6,"v":0.0011},{"d":202.3,"v":0.0007},{"d":203.0,"v":0.0013},{"d":203.7,"v":0.0010},{"d":204.4,"v":0.0008},{"d":205.1,"v":0.0012},{"d":205.8,"v":0.0009},{"d":206.5,"v":0.0011},{"d":207.2,"v":0.0007},{"d":207.9,"v":0.0013},{"d":208.6,"v":0.0010},{"d":209.3,"v":0.0008},{"d":210.0,"v":0.0012},{"d":210.7,"v":0.0009},{"d":211.4,"v":0.0011},{"d":212.1,"v":0.0007},{"d":212.8,"v":0.0013},{"d":213.5,"v":0.0010},{"d":214.2,"v":0.0008},{"d":214.9,"v":0.0012},{"d":215.6,"v":0.0009},{"d":216.3,"v":0.0011},{"d":217.0,"v":0.0007},{"d":217.7,"v":0.0013},{"d":218.4,"v":0.0010},{"d":219.1,"v":0.0008},{"d":219.8,"v":0.0012},{"d":220.5,"v":0.0009},{"d":221.2,"v":0.0011},{"d":221.9,"v":0.0010},
{"d":223.8,"v":0.0010},{"d":224.5,"v":0.0012},{"d":225.2,"v":0.0008},{"d":225.9,"v":0.0011},{"d":226.6,"v":0.0009},{"d":227.3,"v":0.0013},{"d":228.0,"v":0.0010},{"d":228.7,"v":0.0008},{"d":229.4,"v":0.0012},{"d":230.1,"v":0.0009},{"d":230.8,"v":0.0011},{"d":231.5,"v":0.0010},
{"d":235.0,"v":0.0010},{"d":235.7,"v":0.0012},{"d":236.4,"v":0.0008},{"d":237.1,"v":0.0011},{"d":237.8,"v":0.0009},{"d":238.5,"v":0.0012},{"d":239.2,"v":0.0010},{"d":239.9,"v":0.0008},
{"d":167.2,"v":0.006},{"d":167.2,"v":0.010},{"d":169.5,"v":0.009},{"d":178.7,"v":0.006},{"d":178.7,"v":0.013},{"d":178.9,"v":0.015},{"d":178.7,"v":0.057},{"d":186.4,"v":0.005},{"d":196.1,"v":0.005},{"d":196.1,"v":0.010},{"d":199.1,"v":0.003},{"d":214.9,"v":0.004},{"d":224.2,"v":0.004},{"d":235.4,"v":0.003}
],
"c":[
{"d":0.3,"v":0.0008},{"d":0.3,"v":0.0024},{"d":0.5,"v":0.004},{"d":0.6,"v":0.0055},{"d":0.9,"v":0.007},{"d":1.2,"v":0.0087},{"d":1.5,"v":0.0094},{"d":1.8,"v":0.0102},{"d":2.1,"v":0.011},{"d":2.1,"v":0.0094},{"d":1.8,"v":0.008},{"d":1.5,"v":0.0063},
{"d":70.3,"v":0.014},{"d":70.6,"v":0.017},{"d":70.4,"v":0.022},{"d":70.5,"v":0.026},
{"d":70.7,"v":0.034},{"d":71.1,"v":0.038},{"d":70.8,"v":0.042},{"d":71.15,"v":0.046},{"d":70.65,"v":0.050},{"d":70.9,"v":0.061},{"d":70.9,"v":0.065},
{"d":71.2,"v":0.039},{"d":71.6,"v":0.043},{"d":71.3,"v":0.047},{"d":71.65,"v":0.051},{"d":71.15,"v":0.054},
{"d":71.7,"v":0.040},{"d":72.1,"v":0.044},{"d":71.8,"v":0.048},{"d":72.15,"v":0.052},
{"d":72.2,"v":0.037},{"d":72.6,"v":0.041},{"d":72.3,"v":0.045},{"d":72.65,"v":0.049},{"d":72.15,"v":0.053},
{"d":72.7,"v":0.036},{"d":73.1,"v":0.040},{"d":72.8,"v":0.044},{"d":73.15,"v":0.047},{"d":72.65,"v":0.050},
{"d":73.2,"v":0.033},{"d":73.6,"v":0.038},{"d":73.3,"v":0.042},{"d":73.65,"v":0.045},{"d":73.15,"v":0.048},
{"d":73.5,"v":0.043},{"d":73.9,"v":0.046},{"d":73.6,"v":0.049},{"d":73.7,"v":0.068},
{"d":73.8,"v":0.030},{"d":74.2,"v":0.035},{"d":73.9,"v":0.040},{"d":74.25,"v":0.044},{"d":73.75,"v":0.047},{"d":74.1,"v":0.050},
{"d":74.3,"v":0.028},{"d":74.7,"v":0.033},{"d":74.4,"v":0.038},{"d":74.75,"v":0.043},{"d":74.25,"v":0.046},{"d":74.5,"v":0.072},
{"d":74.8,"v":0.026},{"d":75.2,"v":0.031},{"d":74.9,"v":0.036},{"d":75.25,"v":0.041},{"d":74.75,"v":0.045},{"d":75.0,"v":0.080},
{"d":75.3,"v":0.074},
{"d":75.3,"v":0.024},{"d":75.7,"v":0.029},{"d":75.4,"v":0.034},{"d":75.75,"v":0.039},{"d":75.25,"v":0.044},
{"d":75.8,"v":0.022},{"d":76.2,"v":0.027},{"d":75.9,"v":0.032},{"d":76.25,"v":0.037},{"d":75.75,"v":0.042},{"d":76.0,"v":0.063},
{"d":76.3,"v":0.020},{"d":76.7,"v":0.025},{"d":76.4,"v":0.030},{"d":76.75,"v":0.035},{"d":76.25,"v":0.040},
{"d":76.9,"v":0.070},
{"d":76.8,"v":0.018},{"d":77.2,"v":0.023},{"d":76.9,"v":0.028},{"d":77.25,"v":0.033},{"d":76.75,"v":0.038},
{"d":77.3,"v":0.015},{"d":77.7,"v":0.020},{"d":77.4,"v":0.025},{"d":77.75,"v":0.030},
{"d":77.8,"v":0.012},{"d":78.2,"v":0.017},{"d":77.9,"v":0.022},{"d":78.25,"v":0.027},{"d":77.75,"v":0.031},
{"d":78.3,"v":0.010},{"d":78.7,"v":0.014},{"d":78.4,"v":0.019},{"d":78.75,"v":0.024},{"d":78.25,"v":0.029},
{"d":78.8,"v":0.008},{"d":79.2,"v":0.012},{"d":78.9,"v":0.016},{"d":79.25,"v":0.021},{"d":78.75,"v":0.026},
{"d":79.4,"v":0.077},
{"d":79.3,"v":0.007},{"d":79.7,"v":0.011},{"d":79.4,"v":0.015},{"d":79.75,"v":0.019},{"d":79.25,"v":0.023},
{"d":79.8,"v":0.006},{"d":80.2,"v":0.010},{"d":79.9,"v":0.014},{"d":80.25,"v":0.018},{"d":80.0,"v":0.035},
{"d":80.1,"v":0.045},{"d":80.1,"v":0.047},
{"d":80.3,"v":0.005},{"d":80.7,"v":0.009},{"d":80.4,"v":0.013},{"d":80.75,"v":0.017},{"d":80.25,"v":0.021},
{"d":80.8,"v":0.004},{"d":81.2,"v":0.008},{"d":80.9,"v":0.012},{"d":81.25,"v":0.016},
{"d":81.3,"v":0.004},{"d":81.7,"v":0.007},{"d":81.4,"v":0.011},{"d":81.75,"v":0.015},{"d":81.25,"v":0.020},
{"d":81.8,"v":0.003},{"d":82.2,"v":0.006},{"d":81.9,"v":0.010},{"d":82.25,"v":0.014},
{"d":82.3,"v":0.003},{"d":82.7,"v":0.006},{"d":82.4,"v":0.009},{"d":82.75,"v":0.013},{"d":82.25,"v":0.018},
{"d":82.8,"v":0.002},{"d":83.2,"v":0.005},{"d":82.9,"v":0.008},{"d":83.25,"v":0.012},
{"d":83.3,"v":0.002},{"d":83.7,"v":0.004},{"d":83.4,"v":0.007},{"d":83.75,"v":0.010},
{"d":83.8,"v":0.002},{"d":84.2,"v":0.004},{"d":83.9,"v":0.006},
{"d":84.2,"v":0.018},{"d":84.2,"v":0.032},
{"d":84.5,"v":0.001},{"d":84.5,"v":0.003},{"d":84.5,"v":0.090},
{"d":85.0,"v":0.001},{"d":85.0,"v":0.003},{"d":85.5,"v":0.001},{"d":85.5,"v":0.002},{"d":86.0,"v":0.001},{"d":86.0,"v":0.002},
{"d":89.8,"v":0.002},{"d":89.8,"v":0.007},{"d":89.9,"v":0.009},{"d":89.9,"v":0.039},{"d":89.9,"v":0.093},
{"d":86.8,"v":0.0012},{"d":87.5,"v":0.0016},{"d":88.2,"v":0.0011},{"d":88.9,"v":0.0015},{"d":89.6,"v":0.0013},{"d":90.3,"v":0.0017},{"d":91.0,"v":0.0012},{"d":91.7,"v":0.0015},{"d":92.4,"v":0.0011},{"d":93.1,"v":0.0016},{"d":93.8,"v":0.0013},{"d":94.5,"v":0.0015},{"d":95.2,"v":0.0012},{"d":95.9,"v":0.0016},{"d":96.6,"v":0.0011},{"d":97.3,"v":0.0015},{"d":98.0,"v":0.0013},{"d":98.7,"v":0.0016},{"d":99.4,"v":0.0012},{"d":100.1,"v":0.0015},{"d":100.8,"v":0.0011},{"d":101.5,"v":0.0016},{"d":102.2,"v":0.0013},{"d":102.9,"v":0.0015},{"d":103.6,"v":0.0012},{"d":104.3,"v":0.0016},{"d":105.0,"v":0.0011},{"d":105.7,"v":0.0015},{"d":106.4,"v":0.0013},{"d":107.1,"v":0.0016},{"d":107.8,"v":0.0012},{"d":108.5,"v":0.0015},{"d":109.2,"v":0.0011},{"d":109.9,"v":0.0016},{"d":110.6,"v":0.0013},{"d":111.3,"v":0.0015},{"d":112.0,"v":0.0012},{"d":112.7,"v":0.0016},{"d":113.4,"v":0.0011},{"d":114.1,"v":0.0015},{"d":114.8,"v":0.0013},{"d":115.5,"v":0.0016},{"d":116.2,"v":0.0012},
{"d":118.4,"v":0.0013},{"d":119.1,"v":0.0016},{"d":119.8,"v":0.0012},{"d":120.5,"v":0.0015},{"d":121.2,"v":0.0011},{"d":121.9,"v":0.0016},{"d":122.6,"v":0.0013},{"d":123.3,"v":0.0015},{"d":124.0,"v":0.0012},{"d":124.7,"v":0.0016},{"d":125.4,"v":0.0011},{"d":126.1,"v":0.0015},{"d":126.8,"v":0.0013},{"d":127.5,"v":0.0016},{"d":128.2,"v":0.0012},{"d":128.9,"v":0.0015},{"d":129.6,"v":0.0011},{"d":130.3,"v":0.0016},{"d":131.0,"v":0.0013},{"d":131.7,"v":0.0015},{"d":132.4,"v":0.0012},{"d":133.1,"v":0.0016},{"d":133.8,"v":0.0011},{"d":134.5,"v":0.0015},{"d":135.2,"v":0.0013},{"d":135.9,"v":0.0016},{"d":136.6,"v":0.0012},{"d":137.3,"v":0.0015},{"d":138.0,"v":0.0011},{"d":138.7,"v":0.0016},{"d":139.4,"v":0.0013},{"d":140.1,"v":0.0015},{"d":140.8,"v":0.0012},{"d":141.5,"v":0.0016},{"d":142.2,"v":0.0011},{"d":142.9,"v":0.0015},{"d":143.6,"v":0.0013},{"d":144.3,"v":0.0016},{"d":145.0,"v":0.0012},{"d":145.7,"v":0.0015},{"d":146.4,"v":0.0011},{"d":147.1,"v":0.0016},{"d":147.8,"v":0.0013},{"d":148.5,"v":0.0015},{"d":149.2,"v":0.0012},{"d":149.9,"v":0.0016},{"d":150.6,"v":0.0011},{"d":151.3,"v":0.0015},{"d":152.0,"v":0.0013},{"d":152.7,"v":0.0016},{"d":153.4,"v":0.0012},{"d":154.1,"v":0.0015},
{"d":125.4,"v":0.007},{"d":135.2,"v":0.0063}
]
},
"hconcat":[
{"data":{"name":"a"},"width":127,"height":783,"title":"Hole U1318A",
"mark":{"type":"point","shape":"diamond","filled":true,"size":18,"color":"#3d0404","stroke":"#1a0000","strokeWidth":0.5,"opacity":1},
"encoding":{
"x":{"field":"v","type":"quantitative","scale":{"domain":[0,0.1],"nice":false,"zero":false},
"axis":{"orient":"top","title":"Intensity (A/m)","titlePadding":6.7,"values":[0,0.01,0.02,0.03,0.04,0.05,0.06,0.07,0.08,0.09,0.1],"labelExpr":"datum.value == 0 ? '0' : (abs(datum.value-0.05) < 0.000001 ? '0.05' : (abs(datum.value-0.1) < 0.000001 ? '0.10' : ''))","tickSize":{"condition":{"test":"abs(datum.value*20 - round(datum.value*20)) < 0.000001","value":-5},"value":-3},"labelPadding":4.8}},
"y":{"field":"d","type":"quantitative","scale":{"domain":[0,240],"reverse":true,"nice":false,"zero":false},
"axis":{"title":"Depth (mbsf)","titlePadding":7,"values":[0,2,4,6,8,10,12,14,16,18,20,22,24,26,28,30,32,34,36,38,40,42,44,46,48,50,52,54,56,58,60,62,64,66,68,70,72,74,76,78,80,82,84,86,88,90,92,94,96,98,100,102,104,106,108,110,112,114,116,118,120,122,124,126,128,130,132,134,136,138,140,142,144,146,148,150,152,154,156,158,160,162,164,166,168,170,172,174,176,178,180,182,184,186,188,190,192,194,196,198,200,202,204,206,208,210,212,214,216,218,220,222,224,226,228,230,232,234,236,238,240],"labelExpr":"datum.value % 20 == 0 ? datum.label : ''","tickSize":{"condition":{"test":"datum.value % 20 == 0","value":-5},"value":-3},"labelPadding":10}}}},
{"data":{"name":"b"},"width":127,"height":783,"title":"Hole U1318B",
"mark":{"type":"point","shape":"diamond","filled":true,"size":18,"color":"#3d0404","stroke":"#1a0000","strokeWidth":0.5,"opacity":1},
"encoding":{
"x":{"field":"v","type":"quantitative","scale":{"domain":[0,0.1],"nice":false,"zero":false},
"axis":{"orient":"top","title":"Intensity (A/m)","titlePadding":6.7,"values":[0,0.01,0.02,0.03,0.04,0.05,0.06,0.07,0.08,0.09,0.1],"labelExpr":"datum.value == 0 ? '0' : (abs(datum.value-0.05) < 0.000001 ? '0.05' : (abs(datum.value-0.1) < 0.000001 ? '0.10' : ''))","tickSize":{"condition":{"test":"abs(datum.value*20 - round(datum.value*20)) < 0.000001","value":-5},"value":-3},"labelPadding":4.8}},
"y":{"field":"d","type":"quantitative","scale":{"domain":[0,240],"reverse":true,"nice":false,"zero":false},
"axis":{"title":null,"labels":false,"values":[0,2,4,6,8,10,12,14,16,18,20,22,24,26,28,30,32,34,36,38,40,42,44,46,48,50,52,54,56,58,60,62,64,66,68,70,72,74,76,78,80,82,84,86,88,90,92,94,96,98,100,102,104,106,108,110,112,114,116,118,120,122,124,126,128,130,132,134,136,138,140,142,144,146,148,150,152,154,156,158,160,162,164,166,168,170,172,174,176,178,180,182,184,186,188,190,192,194,196,198,200,202,204,206,208,210,212,214,216,218,220,222,224,226,228,230,232,234,236,238,240],"tickSize":{"condition":{"test":"datum.value % 20 == 0","value":-5},"value":-3}}}}},
{"data":{"name":"c"},"width":127,"height":783,"title":"Hole U1318C",
"mark":{"type":"point","shape":"diamond","filled":true,"size":18,"color":"#3d0404","stroke":"#1a0000","strokeWidth":0.5,"opacity":1},
"encoding":{
"x":{"field":"v","type":"quantitative","scale":{"domain":[0,0.1],"nice":false,"zero":false},
"axis":{"orient":"top","title":"Intensity (A/m)","titlePadding":6.7,"values":[0,0.01,0.02,0.03,0.04,0.05,0.06,0.07,0.08,0.09,0.1],"labelExpr":"datum.value == 0 ? '0' : (abs(datum.value-0.05) < 0.000001 ? '0.05' : (abs(datum.value-0.1) < 0.000001 ? '0.10' : ''))","tickSize":{"condition":{"test":"abs(datum.value*20 - round(datum.value*20)) < 0.000001","value":-5},"value":-3},"labelPadding":4.8}},
"y":{"field":"d","type":"quantitative","scale":{"domain":[0,240],"reverse":true,"nice":false,"zero":false},
"axis":{"title":null,"labels":false,"values":[0,2,4,6,8,10,12,14,16,18,20,22,24,26,28,30,32,34,36,38,40,42,44,46,48,50,52,54,56,58,60,62,64,66,68,70,72,74,76,78,80,82,84,86,88,90,92,94,96,98,100,102,104,106,108,110,112,114,116,118,120,122,124,126,128,130,132,134,136,138,140,142,144,146,148,150,152,154,156,158,160,162,164,166,168,170,172,174,176,178,180,182,184,186,188,190,192,194,196,198,200,202,204,206,208,210,212,214,216,218,220,222,224,226,228,230,232,234,236,238,240],"tickSize":{"condition":{"test":"datum.value % 20 == 0","value":-5},"value":-3}}}}}
]
}
